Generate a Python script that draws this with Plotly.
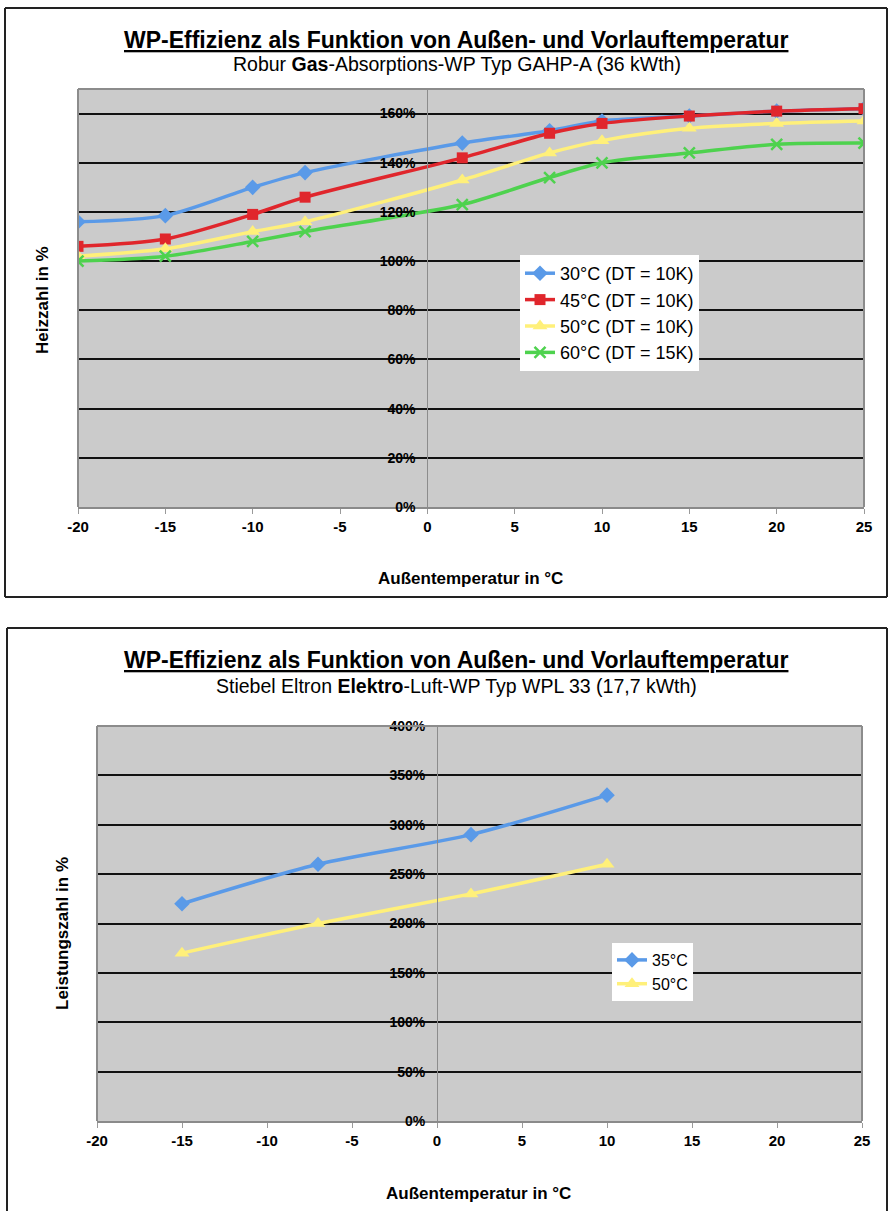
import plotly.graph_objects as go

W, H = 888, 1211

# ---------- data: top chart (Robur GAHP-A) ----------
temps_top = [-20, -15, -10, -7, 2, 7, 10, 15, 20, 25]
s30 = [116, 118.5, 130, 136, 148, 153, 157, 159, 161, 162]
s45 = [106, 109, 119, 126, 142, 152, 156, 159, 161, 162]
s50 = [102, 105, 112, 116, 133, 144, 149, 154, 156, 157]
s60 = [100, 102, 108, 112, 123, 134, 140, 144, 147.5, 148]
names_top = ["30°C (DT = 10K)", "45°C (DT = 10K)", "50°C (DT = 10K)", "60°C (DT = 15K)"]

# ---------- data: bottom chart (Stiebel Eltron WPL 33) ----------
temps_bot = [-15, -7, 2, 10]
s35b = [220, 260, 290, 330]
s50b = [170, 200, 230, 260]
names_bot = ["35°C", "50°C"]

x_ticks = [-20, -15, -10, -5, 0, 5, 10, 15, 20, 25]
y_ticks_top = [0, 20, 40, 60, 80, 100, 120, 140, 160]
y_ticks_bot = [0, 50, 100, 150, 200, 250, 300, 350, 400]

BLUE = "#5A9AE8"
RED = "#E0262C"
YELLOW = "#FFF07A"
GREEN = "#4ED24E"
FONT = "Liberation Sans, Arial, sans-serif"

def px_x(p):
    return p / W

def px_y(p):
    return 1 - p / H

fig = go.Figure()

def add_line(x, y, name, color, symbol, xa, ya, legend, msize=11):
    marker = dict(symbol=symbol, size=msize, color=color)
    if symbol == "x-thin":
        marker = dict(symbol=symbol, size=msize, color=color, line=dict(color=color, width=2.5))
    fig.add_trace(go.Scatter(
        x=x, y=y, name=name, mode="lines+markers",
        line=dict(color=color, width=3.5, shape="spline", smoothing=0.8),
        marker=marker, xaxis=xa, yaxis=ya, legend=legend,
    ))

add_line(temps_top, s30, names_top[0], BLUE, "diamond", "x", "y", "legend", 12)
add_line(temps_top, s45, names_top[1], RED, "square", "x", "y", "legend", 11)
add_line(temps_top, s50, names_top[2], YELLOW, "triangle-up", "x", "y", "legend", 13)
add_line(temps_top, s60, names_top[3], GREEN, "x-thin", "x", "y", "legend", 11)

add_line(temps_bot, s35b, names_bot[0], BLUE, "diamond", "x2", "y2", "legend2", 12)
add_line(temps_bot, s50b, names_bot[1], YELLOW, "triangle-up", "x2", "y2", "legend2", 13)

# domains
top_xd = [px_x(78), px_x(864)]
top_yd = [px_y(507), px_y(89)]
bot_xd = [px_x(97), px_x(862)]
bot_yd = [px_y(1121), px_y(726)]
top_zero = top_xd[0] + (20 / 45) * (top_xd[1] - top_xd[0])
bot_zero = bot_xd[0] + (20 / 45) * (bot_xd[1] - bot_xd[0])

tickfont = dict(family=FONT, size=15, color="black", weight="bold")
ytickfont = dict(family=FONT, size=14, color="black", weight="bold")

x_text = [str(v) for v in x_ticks]

common_x = dict(range=[-20, 25], tickvals=x_ticks, ticktext=x_text, showgrid=False,
                zeroline=False, showline=True, linecolor="#8a8a8a", linewidth=2,
                ticks="outside", ticklen=5, tickcolor="#9a9a9a", tickfont=tickfont,
                fixedrange=True, automargin=False)
common_y = dict(showgrid=True, gridcolor="#111111", gridwidth=2, zeroline=False,
                showline=True, linecolor="#8c8c8c", linewidth=1, ticks="",
                tickfont=ytickfont, anchor="free", side="left", fixedrange=True,
                automargin=False, ticklabelstandoff=9)

fig.update_layout(
    width=W, height=H,
    margin=dict(l=0, r=0, t=0, b=0, autoexpand=False),
    paper_bgcolor="white",
    plot_bgcolor="#CBCBCB",
    showlegend=True,
    xaxis=dict(domain=top_xd, anchor="y", **common_x),
    yaxis=dict(domain=top_yd, range=[0, 170], tickvals=y_ticks_top,
               ticktext=[f"{v}%" for v in y_ticks_top],
               position=top_zero, **common_y),
    xaxis2=dict(domain=bot_xd, anchor="y2", **common_x),
    yaxis2=dict(domain=bot_yd, range=[0, 400], tickvals=y_ticks_bot,
                ticktext=[f"{v}%" for v in y_ticks_bot],
                position=bot_zero, **common_y),
    legend=dict(x=px_x(520), y=px_y(255), xanchor="left", yanchor="top",
                bgcolor="white", borderwidth=0,
                font=dict(family=FONT, size=18, color="black"),
                itemwidth=30),
    legend2=dict(x=px_x(612), y=px_y(943), xanchor="left", yanchor="top",
                 bgcolor="white", borderwidth=0,
                 font=dict(family=FONT, size=16, color="black"),
                 itemwidth=30),
)

shapes = []
def seg(x0, y0, x1, y1, color="#222222", width=2, layer="below"):
    shapes.append(dict(type="line", xref="paper", yref="paper",
                       x0=px_x(x0), x1=px_x(x1), y0=px_y(y0), y1=px_y(y1),
                       line=dict(color=color, width=width), layer=layer))

# outer chart borders
seg(5, 8, 887, 8); seg(5, 597, 887, 597); seg(5, 8, 5, 597); seg(887, 8, 887, 597)
seg(7, 628, 887, 628); seg(7, 628, 7, 1211); seg(887, 628, 887, 1211)

# plot area borders (top / left / right edges)
for dom_x, dom_y in ((top_xd, top_yd), (bot_xd, bot_yd)):
    for (a, b, c, d) in ((dom_x[0], dom_y[1], dom_x[1], dom_y[1]),
                         (dom_x[1], dom_y[0], dom_x[1], dom_y[1]),
                         (dom_x[0], dom_y[0], dom_x[0], dom_y[1])):
        shapes.append(dict(type="line", xref="paper", yref="paper",
                           x0=a, y0=b, x1=c, y1=d,
                           line=dict(color="#8c8c8c", width=2), layer="above"))
fig.update_layout(shapes=shapes)

ann = []
def text(x, y, s, size, bold=False, angle=0):
    ann.append(dict(x=px_x(x), y=px_y(y), xref="paper", yref="paper", text=s,
                    showarrow=False, textangle=angle, xanchor="center", yanchor="middle",
                    font=dict(family=FONT, size=size, color="black",
                              weight="bold" if bold else "normal")))

title = "<b><u>WP-Effizienz als Funktion von Außen- und Vorlauftemperatur</u></b>"
text(456, 40, title, 23)
text(457, 64, "Robur <b>Gas</b>-Absorptions-WP Typ GAHP-A (36 kWth)", 19.5)
text(470, 578, "Außentemperatur in °C", 17, bold=True)
text(42, 300, "Heizzahl in %", 17, bold=True, angle=-90)

text(456, 660, title, 23)
text(456, 686, "Stiebel Eltron <b>Elektro</b>-Luft-WP Typ WPL 33 (17,7 kWth)", 19.5)
text(478, 1193, "Außentemperatur in °C", 17, bold=True)
text(62, 933, "Leistungszahl in %", 17, bold=True, angle=-90)
fig.update_layout(annotations=ann)

fig.write_html("out.html", config={"displayModeBar": False})
